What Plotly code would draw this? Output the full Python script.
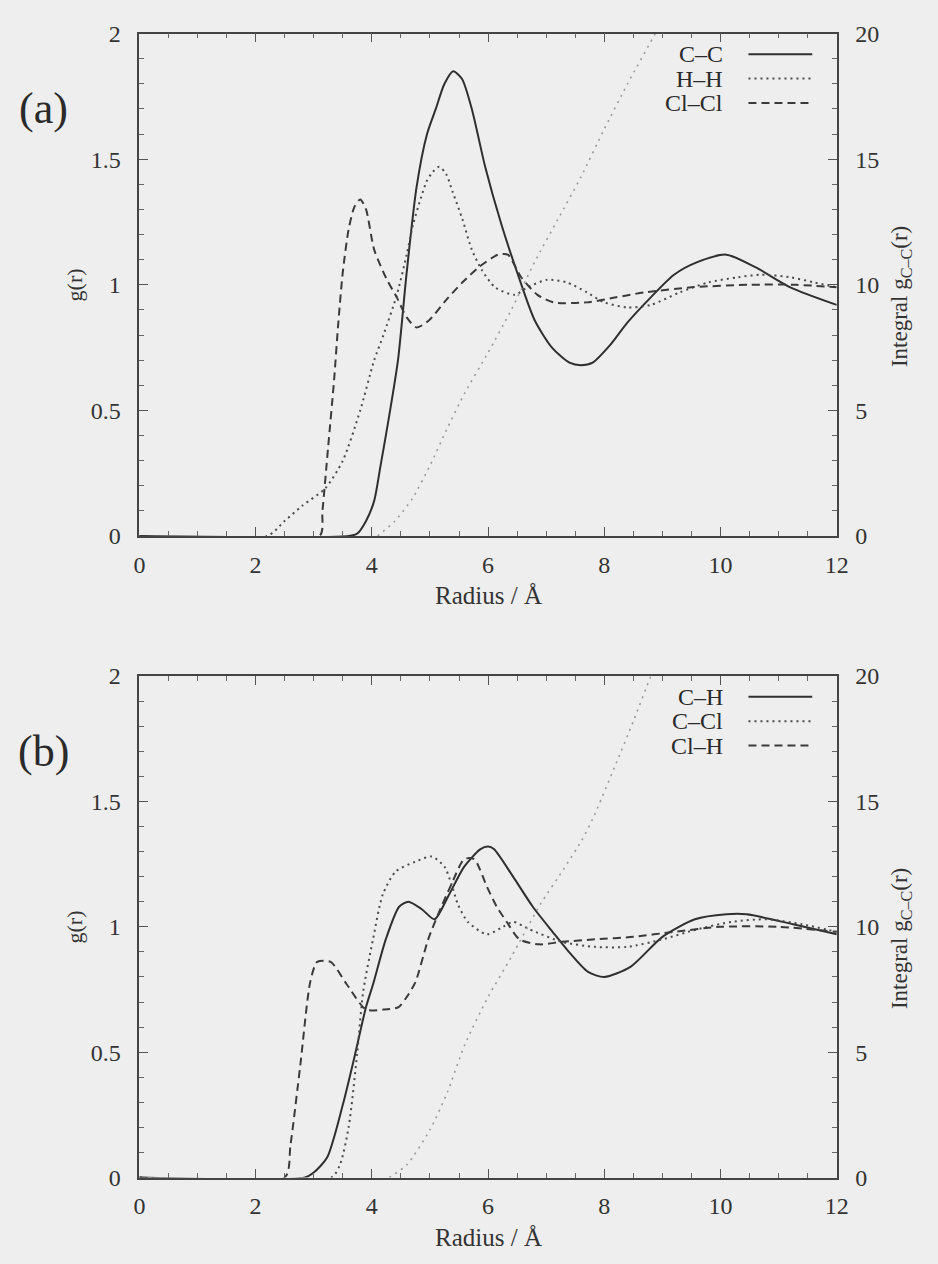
import plotly.graph_objects as go

# ---------------- data ----------------
# Panel (a)
r_cc = [0, 3.6, 3.75, 3.9, 4.04, 4.15, 4.3, 4.45, 4.6, 4.77, 4.95, 5.1, 5.25, 5.4, 5.55, 5.72,
        5.95, 6.23, 6.5, 6.8, 7.1, 7.4, 7.6, 7.8, 8.1, 8.4, 8.8, 9.2, 9.6, 10.1, 10.6, 11.2, 12]
g_cc = [0, 0, 0.01, 0.06, 0.14, 0.28, 0.48, 0.7, 1.05, 1.39, 1.6, 1.7, 1.8, 1.85, 1.82, 1.7,
        1.47, 1.24, 1.05, 0.86, 0.75, 0.69, 0.68, 0.69, 0.76, 0.85, 0.95, 1.04, 1.09, 1.12, 1.07, 0.99, 0.92]

r_hh = [0, 2.2, 2.5, 2.8, 3.2, 3.5, 3.8, 4.04, 4.2, 4.43, 4.6, 4.71, 4.85, 4.94, 5.05, 5.16, 5.28,
        5.39, 5.56, 5.72, 5.89, 6.12, 6.46, 6.68, 7.02, 7.35, 7.7, 8.0, 8.4, 8.8, 9.3, 9.8, 10.3,
        10.7, 11.2, 11.6, 12]
g_hh = [0, 0, 0.06, 0.12, 0.19, 0.3, 0.5, 0.7, 0.8, 0.96, 1.12, 1.24, 1.35, 1.41, 1.45, 1.47, 1.44,
        1.37, 1.26, 1.14, 1.06, 0.99, 0.96, 0.99, 1.02, 1.01, 0.97, 0.93, 0.91, 0.92, 0.97, 1.01, 1.03,
        1.04, 1.03, 1.01, 0.99]

r_clcl = [0, 3.1, 3.15, 3.25, 3.35, 3.42, 3.5, 3.6, 3.7, 3.8, 3.9, 4.04, 4.26, 4.43, 4.6, 4.77,
          4.99, 5.28, 5.56, 5.84, 6.17, 6.34, 6.57, 6.85, 7.13, 7.7, 8.2, 8.7, 9.5, 10.5, 11.3, 12]
g_clcl = [0, 0, 0.1, 0.36, 0.62, 0.84, 1.05, 1.22, 1.31, 1.34, 1.3, 1.14, 1.02, 0.95, 0.87, 0.83,
          0.86, 0.94, 1.01, 1.07, 1.12, 1.12, 1.03, 0.96, 0.93, 0.93, 0.95, 0.97, 0.99, 1.0, 1.0, 0.99]

r_int_a = [4.1, 4.4, 4.7, 5.0, 5.3, 5.6, 6.0, 6.4, 6.8, 7.2, 7.6, 8.0, 8.4, 8.9, 9.1]
int_a = [0, 0.6, 1.5, 2.8, 4.3, 5.7, 7.3, 9.0, 10.9, 12.6, 14.3, 16.2, 18.0, 20.1, 21.0]

# Panel (b)
r_ch = [0, 2.85, 3.0, 3.23, 3.5, 3.7, 3.9, 4.02, 4.24, 4.47, 4.63, 4.86, 5.08, 5.31, 5.59, 5.87,
        6.0, 6.1, 6.43, 6.77, 7.11, 7.39, 7.72, 8.0, 8.45, 9.0, 9.56, 10.1, 10.45, 11.25, 12]
g_ch = [0, 0, 0.02, 0.08, 0.29, 0.48, 0.68, 0.77, 0.95, 1.08, 1.1, 1.07, 1.03, 1.12, 1.24, 1.31,
        1.32, 1.31, 1.2, 1.08, 0.98, 0.9, 0.82, 0.8, 0.84, 0.96, 1.03, 1.05, 1.05, 1.01, 0.97]

r_ccl = [0, 3.3, 3.45, 3.6, 3.75, 3.85, 4.02, 4.19, 4.41, 4.75, 5.03, 5.25, 5.37, 5.48, 5.65, 5.98,
         6.26, 6.43, 6.71, 7.27, 7.84, 8.4, 9.0, 9.6, 10.2, 10.8, 11.4, 12]
g_ccl = [0, 0, 0.05, 0.2, 0.5, 0.74, 0.95, 1.13, 1.22, 1.26, 1.28, 1.24, 1.17, 1.09, 1.02, 0.97,
         1.0, 1.02, 0.99, 0.94, 0.92, 0.92, 0.95, 0.99, 1.02, 1.03, 1.01, 0.98]

r_clh = [0, 2.5, 2.6, 2.77, 2.94, 3.06, 3.29, 3.57, 3.9, 4.2, 4.46, 4.6, 4.75, 4.97, 5.14, 5.37,
         5.59, 5.76, 5.98, 6.15, 6.32, 6.54, 6.88, 7.27, 7.84, 8.5, 9.2, 10.0, 11.0, 12]
g_clh = [0, 0, 0.13, 0.45, 0.78, 0.86, 0.86, 0.77, 0.67, 0.67, 0.68, 0.72, 0.78, 0.95, 1.05, 1.17,
         1.27, 1.27, 1.16, 1.08, 1.02, 0.95, 0.93, 0.94, 0.95, 0.96, 0.98, 1.0, 1.0, 0.98]

r_int_b = [4.3, 4.6, 5.0, 5.3, 5.6, 6.0, 6.4, 6.9, 7.3, 7.6, 7.8, 8.2, 8.5, 8.8, 9.0]
int_b = [0, 0.5, 1.9, 3.4, 5.3, 7.2, 8.8, 10.9, 12.3, 13.4, 14.3, 16.5, 18.2, 20.0, 21.2]

legend_a = ["C–C", "H–H", "Cl–Cl"]
legend_b = ["C–H", "C–Cl", "Cl–H"]
x_ticks = [0, 2, 4, 6, 8, 10, 12]

# ---------------- styling ----------------
W, H = 938, 1264
BG = "#eeeeee"
INK = "#333333"
FONT = "Liberation Serif, Times New Roman, serif"
SOLID = dict(color="#2f2f2f", width=2)
DOT = dict(color="#4a4a4a", width=2, dash="2px,4px")
DASH = dict(color="#3a3a3a", width=2, dash="8px,5px")
INTEG = dict(color="#9a9a9a", width=1.6, dash="2px,5px")
styles = [SOLID, DOT, DASH]

XL, XR = 136, 847
panels = [
    dict(top=21, bot=534, xa="x", ya="y", ya2="y2",
         series=[(r_cc, g_cc), (r_hh, g_hh), (r_clcl, g_clcl)], integ=(r_int_a, int_a),
         legend=legend_a, tag="(a)"),
    dict(top=677, bot=1189, xa="x2", ya="y3", ya2="y4",
         series=[(r_ch, g_ch), (r_ccl, g_ccl), (r_clh, g_clh)], integ=(r_int_b, int_b),
         legend=legend_b, tag="(b)"),
]

def px(x):
    return x / W

def py(y):
    return 1 - y / H

fig = go.Figure()
annotations = []
shapes = []

def note(text, x, y, size, color=INK, angle=0, xanchor="center"):
    return dict(text=text, x=px(x), y=py(y), xref="paper", yref="paper", textangle=angle,
                xanchor=xanchor, yanchor="middle", showarrow=False,
                font=dict(family=FONT, size=size, color=color))

for p in panels:
    for (rx, gy), st, name in zip(p["series"], styles, p["legend"]):
        fig.add_trace(go.Scatter(x=rx, y=gy, mode="lines", name=name,
                                 line=dict(**st, shape="spline", smoothing=0.7),
                                 xaxis=p["xa"], yaxis=p["ya"], showlegend=False))
    fig.add_trace(go.Scatter(x=p["integ"][0], y=p["integ"][1], mode="lines", name="integral",
                             line=dict(**INTEG, shape="spline", smoothing=0.6),
                             xaxis=p["xa"], yaxis=p["ya2"], showlegend=False))

    mid = (p["top"] + p["bot"]) / 2
    annotations += [
        note(p["tag"], 38, p["top"] + 77, 44, "#2a2a2a"),
        note("g(r)", 70, mid, 22, angle=-90),
        note("Integral g<sub>C–C</sub>(r)", 912, mid + 12, 23, angle=-90),
        note("Radius / Å", (XL + XR) / 2, p["bot"] + 61, 25),
    ]
    for i, (name, st) in enumerate(zip(p["legend"], styles)):
        yrow = p["top"] + 21 + 25 * i
        annotations.append(note(name, 733, yrow, 24, "#2a2a2a", xanchor="right"))
        shapes.append(dict(type="line", xref="paper", yref="paper", x0=px(757), x1=px(822),
                           y0=py(yrow), y1=py(yrow), line=st))

axis_common = dict(showline=True, linecolor="#444444", linewidth=1.5, ticks="inside",
                   tickcolor="#555555", tickwidth=1.2, showgrid=False, zeroline=False,
                   tickfont=dict(family=FONT, size=24, color=INK))

layout = dict(width=W, height=H, margin=dict(l=0, r=0, t=0, b=0), autosize=False,
              paper_bgcolor=BG, plot_bgcolor=BG, showlegend=False,
              annotations=annotations, shapes=shapes)

for p, (xa, ya, ya2) in zip(panels, [("xaxis", "yaxis", "yaxis2"), ("xaxis2", "yaxis3", "yaxis4")]):
    dom_y = [py(p["bot"]), py(p["top"])]
    layout[xa] = dict(axis_common, domain=[px(XL), px(XR)], range=[0, 12], tickvals=x_ticks,
                      ticklen=9, mirror="ticks", anchor=p["ya"], ticklabelstandoff=6,
                      minor=dict(dtick=0.5, ticklen=5, ticks="inside", tickcolor="#666666"))
    layout[ya] = dict(axis_common, domain=dom_y, range=[0, 2], dtick=0.5, ticklen=9,
                      anchor=p["xa"], ticklabelstandoff=12,
                      minor=dict(dtick=0.1, ticklen=5, ticks="inside", tickcolor="#666666"))
    layout[ya2] = dict(axis_common, domain=dom_y, range=[0, 20], dtick=5, ticklen=9,
                       anchor=p["xa"], overlaying=p["ya"], side="right", ticklabelstandoff=12,
                       minor=dict(dtick=1, ticklen=5, ticks="inside", tickcolor="#666666"))

fig.update_layout(**layout)
fig.write_html("out.html")
